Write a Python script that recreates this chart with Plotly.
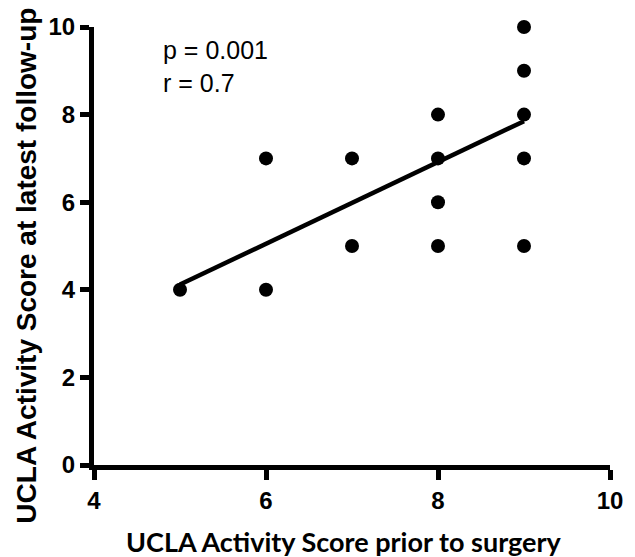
import plotly.graph_objects as go

pre_scores = [5, 6, 6, 7, 7, 8, 8, 8, 8, 9, 9, 9, 9, 9]
followup_scores = [4, 4, 7, 5, 7, 5, 6, 7, 8, 5, 7, 8, 9, 10]
fit_x = [5, 9]
fit_y = [4.12, 7.85]
x_ticks = [4, 6, 8, 10]
y_ticks = [0, 2, 4, 6, 8, 10]

fig = go.Figure()
fig.add_trace(go.Scatter(x=fit_x, y=fit_y, mode="lines",
                         line=dict(color="black", width=4.5), cliponaxis=False,
                         showlegend=False))
fig.add_trace(go.Scatter(x=pre_scores, y=followup_scores, mode="markers",
                         marker=dict(color="black", size=14), cliponaxis=False,
                         showlegend=False))

tickfont = dict(family="Liberation Sans, Arial", size=24, color="black", weight="bold")
fig.update_layout(
    width=635, height=557,
    margin=dict(l=94, r=14, t=27, b=92),
    paper_bgcolor="white", plot_bgcolor="white",
    xaxis=dict(range=[4, 10], tickvals=x_ticks, ticktext=[f"<b>{v}</b>" for v in x_ticks],
               showline=True, linecolor="black", linewidth=5,
               ticks="outside", ticklen=10, tickwidth=5, tickcolor="black",
               showgrid=False, zeroline=False, tickfont=tickfont),
    yaxis=dict(range=[0, 10], tickvals=y_ticks, ticktext=[f"<b>{v}</b>" for v in y_ticks],
               showline=True, linecolor="black", linewidth=5,
               ticks="outside", ticklen=9, tickwidth=5, tickcolor="black",
               showgrid=False, zeroline=False, tickfont=tickfont, ticklabelstandoff=0),
)

fig.add_annotation(text="p = 0.001<br>r = 0.7", xref="paper", yref="paper",
                   x=0.13, y=0.985, xanchor="left", yanchor="top", align="left",
                   showarrow=False,
                   font=dict(family="Liberation Sans, Arial", size=25, color="black"))
fig.add_annotation(text="UCLA Activity Score at latest follow-up",
                   xref="paper", yref="paper", x=-0.13, y=0.455, textangle=-90,
                   xanchor="center", yanchor="middle", showarrow=False,
                   font=dict(family="Liberation Sans, Arial", size=28, color="black", weight="bold"))
fig.add_annotation(text="UCLA Activity Score prior to surgery",
                   xref="paper", yref="paper", x=0.484, y=-0.175,
                   xanchor="center", yanchor="middle", showarrow=False,
                   font=dict(family="Lato, Carlito, Calibri", size=27, color="black", weight="bold"))

fig.write_html("out.html", config={"displayModeBar": False},
               post_script="document.body.style.margin='0px';")
